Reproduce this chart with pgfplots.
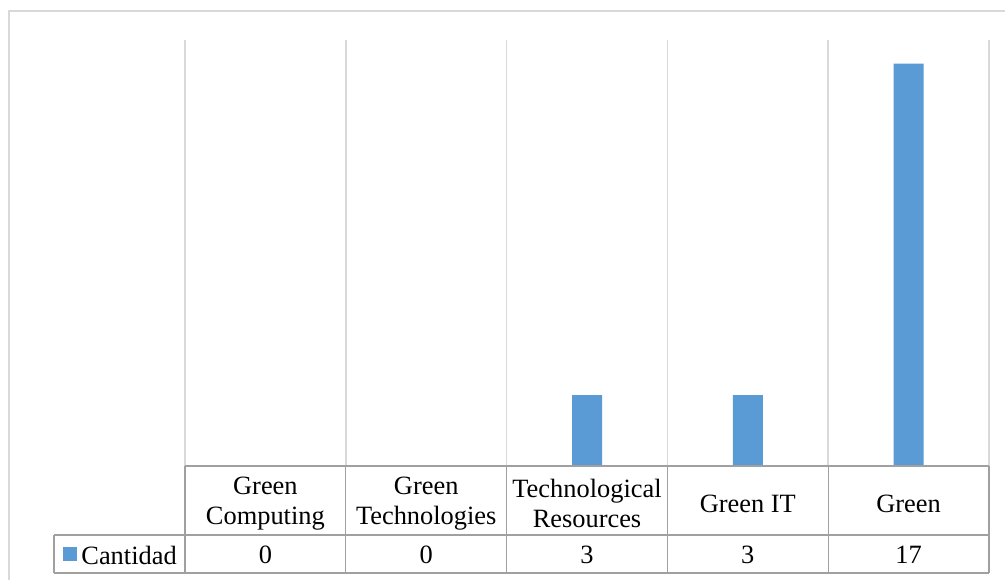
\documentclass[border=0pt]{standalone}
\usepackage{pgfplots}
\pgfplotsset{compat=1.18}
\usepackage{fontspec}
\setmainfont{Liberation Serif}
\definecolor{barblue}{HTML}{5B9BD5}
\definecolor{gridgray}{HTML}{D9D9D9}
\definecolor{tablegray}{HTML}{A0A0A0}
\begin{document}
\fontsize{13.2}{15}\selectfont
\begin{tikzpicture}
\useasboundingbox (-92.5pt,-56.5pt) rectangle (410pt,233pt);
\fill[white] (-92.5pt,-56.5pt) rectangle (410pt,233pt);
\draw[gridgray, line width=0.8pt] (-88pt,-70pt) -- (-88pt,227.5pt) -- (430pt,227.5pt);
\begin{axis}[at={(0,0)}, anchor=south west, scale only axis,
  width=402pt, height=213pt,
  xmin=0, xmax=5, ymin=0, ymax=18,
  axis line style={draw=none},
  ytick=\empty, xtick={0,1,2,3,4,5}, xticklabels={},
  xmajorgrids, major grid style={draw=gridgray, line width=0.8pt},
  major tick length=0pt,
  ybar, bar width=15pt, clip=false]
\addplot[fill=barblue, draw=none] coordinates {(0.5,0) (1.5,0) (2.5,3) (3.5,3) (4.5,17)};
\end{axis}
\begin{scope}[tablegray, line width=0.6pt]
\draw (0,0) -- (402pt,0);
\draw (-65.5pt,-34.5pt) -- (402pt,-34.5pt);
\draw (-65.5pt,-53.5pt) -- (402pt,-53.5pt);
\draw (-65.5pt,-34.5pt) -- (-65.5pt,-53.5pt);
\foreach \i in {0,...,5} { \draw ({80.4pt*\i},0) -- ({80.4pt*\i},-53.5pt); }
\end{scope}
\foreach \t [count=\i from 0] in {{Green\\Computing},{Green\\Technologies},{Technological\\Resources},{Green IT},{Green}} {
  \node[align=center, inner sep=0pt, font=\fontsize{13.2}{15}\selectfont] at ({80.4pt*(\i+0.5)},-18.75pt) {\t};
}
\foreach \v [count=\i from 0] in {0,0,3,3,17} {
  \node[inner sep=0pt, font=\fontsize{13.2}{15}\selectfont] at ({80.4pt*(\i+0.5)},-44.5pt) {\v};
}
\fill[barblue] (-61pt,-47.5pt) rectangle (-54pt,-40.5pt);
\node[anchor=west, inner sep=0pt, font=\fontsize{13.2}{15}\selectfont] at (-52pt,-44.5pt) {Cantidad};
\end{tikzpicture}
\end{document}
